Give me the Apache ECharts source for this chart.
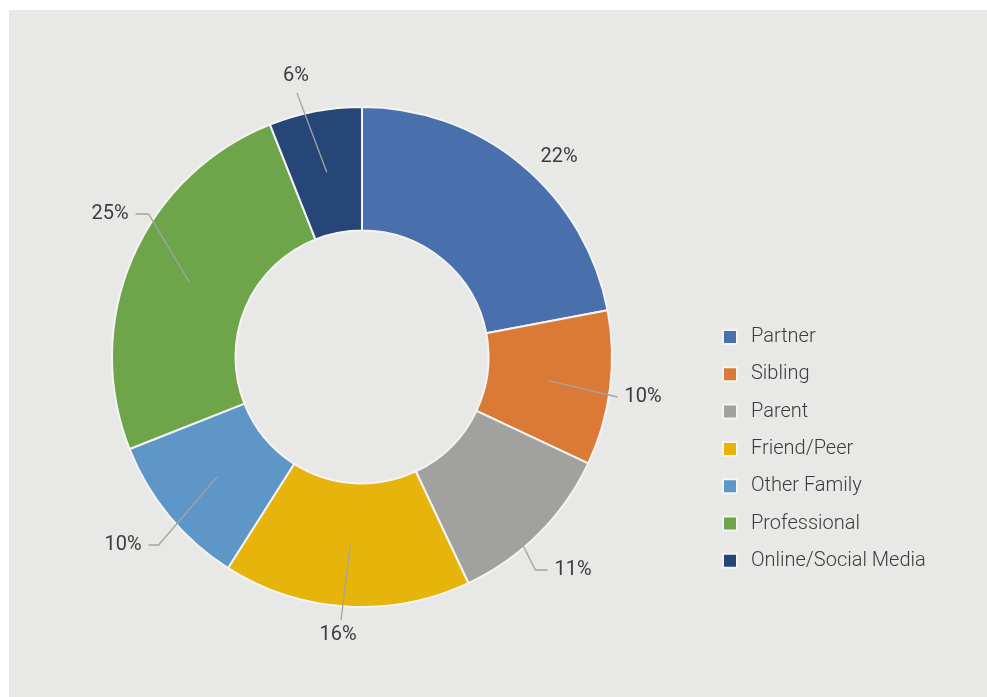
<!DOCTYPE html>
<html>
<head>
<meta charset="utf-8">
<title>Sources of support</title>
<script src="https://cdn.jsdelivr.net/npm/echarts@6/dist/echarts.min.js"></script>
<style>
  html, body { margin: 0; padding: 0; background: #ffffff; }
  #chart { position: absolute; left: 9px; top: 10px; width: 978px; height: 687px; }
</style>
</head>
<body>
<div id="chart"></div>
<script>
// Who people turned to, share of responses (%)
const categories = ['Partner', 'Sibling', 'Parent', 'Friend/Peer', 'Other Family', 'Professional', 'Online/Social Media'];
const shares = [22, 10, 11, 16, 10, 25, 6];
const sliceColors = ['#4a6fad', '#da7a36', '#a1a19f', '#e7b40c', '#5e96c7', '#6ea54a', '#264677'];

// Donut geometry (px, chart coordinates)
const CENTER = [353, 347];
const R_IN = 126.5;
const R_OUT = 250;
const R_GUIDE = 188; // leader lines start in the middle of the ring

// Label placement: offset of label centre from the donut centre,
// side of the label the leader attaches to, and length of the horizontal tail.
const labelSpots = [
  { dx: 197, dy: -200, side: 'none', tail: 0 },
  { dx: 281, dy: 40, side: 'left', tail: 0 },
  { dx: 211, dy: 213, side: 'left', tail: 12 },
  { dx: -24, dy: 278, side: 'top', tail: 0 },
  { dx: -239, dy: 188, side: 'right', tail: 10 },
  { dx: -252, dy: -143, side: 'right', tail: 13 },
  { dx: -66, dy: -281, side: 'bottom', tail: 0 }
];

const FONT = 'Roboto, "Open Sans", sans-serif';
const TEXT_COLOR = '#3c3c3c';

// Mid-angle of each slice, measured clockwise from 12 o'clock
function midAngle(i) {
  const total = shares.reduce((a, b) => a + b, 0);
  let before = 0;
  for (let k = 0; k < i; k++) before += shares[k];
  return ((before + shares[i] / 2) / total) * Math.PI * 2;
}

const chart = echarts.init(document.getElementById('chart'), null, { renderer: 'canvas' });

const pieData = categories.map((name, i) => ({ name: name, value: shares[i] }));

const option = {
  backgroundColor: '#e8e8e6',
  animation: false,
  color: sliceColors,
  legend: {
    orient: 'vertical',
    left: 713,
    top: 317,
    padding: 0,
    itemWidth: 14,
    itemHeight: 14,
    itemGap: 17.3,
    icon: 'rect',
    selectedMode: false,
    textStyle: {
      fontFamily: FONT,
      fontSize: 20,
      fontWeight: 300,
      color: TEXT_COLOR,
      lineHeight: 20,
      padding: [0, 0, 0, 9]
    },
    data: categories
  },
  series: [
    {
      // the ring itself
      type: 'pie',
      z: 2,
      center: CENTER,
      radius: [R_IN, R_OUT],
      startAngle: 90,
      clockwise: true,
      silent: true,
      itemStyle: { borderColor: '#f4f4f2', borderWidth: 2 },
      label: { show: false },
      labelLine: { show: false },
      emphasis: { disabled: true },
      data: pieData
    },
    {
      // transparent copy on top that carries the value labels and leader lines
      type: 'pie',
      z: 6,
      center: CENTER,
      radius: [R_IN, R_OUT],
      startAngle: 90,
      clockwise: true,
      silent: true,
      avoidLabelOverlap: false,
      itemStyle: { color: 'rgba(0,0,0,0)', borderWidth: 0 },
      label: {
        show: true,
        position: 'outside',
        formatter: '{c}%',
        fontFamily: FONT,
        fontSize: 20,
        color: TEXT_COLOR
      },
      labelLine: {
        show: true,
        length: 10,
        length2: 10,
        lineStyle: { color: '#a3a3a3', width: 1.3 }
      },
      emphasis: { disabled: true },
      labelLayout: function (params) {
        const spot = labelSpots[params.dataIndex];
        const lx = CENTER[0] + spot.dx;
        const ly = CENTER[1] + spot.dy;
        const w = params.labelRect.width;
        const h = params.labelRect.height;
        const out = { x: lx, y: ly, align: 'center', verticalAlign: 'middle' };
        if (spot.side === 'none') return out;

        const a = midAngle(params.dataIndex);
        const start = [CENTER[0] + R_GUIDE * Math.sin(a), CENTER[1] - R_GUIDE * Math.cos(a)];
        let end, mid;
        const gap = 7;
        if (spot.side === 'right') {
          end = [lx + w / 2 + gap, ly];
          mid = [end[0] + spot.tail, ly];
        } else if (spot.side === 'left') {
          end = [lx - w / 2 - gap, ly];
          mid = [end[0] - spot.tail, ly];
        } else if (spot.side === 'top') {
          end = [lx + 3, ly - h / 2 - gap + 2];
          mid = end;
        } else {
          end = [lx + 1, ly + h / 2 + gap];
          mid = end;
        }
        out.labelLinePoints = [start, mid, end];
        return out;
      },
      data: categories.map((name, i) => ({
        name: name,
        value: shares[i],
        labelLine: { show: labelSpots[i].side !== 'none' }
      }))
    }
  ]
};

chart.setOption(option);
</script>
</body>
</html>
